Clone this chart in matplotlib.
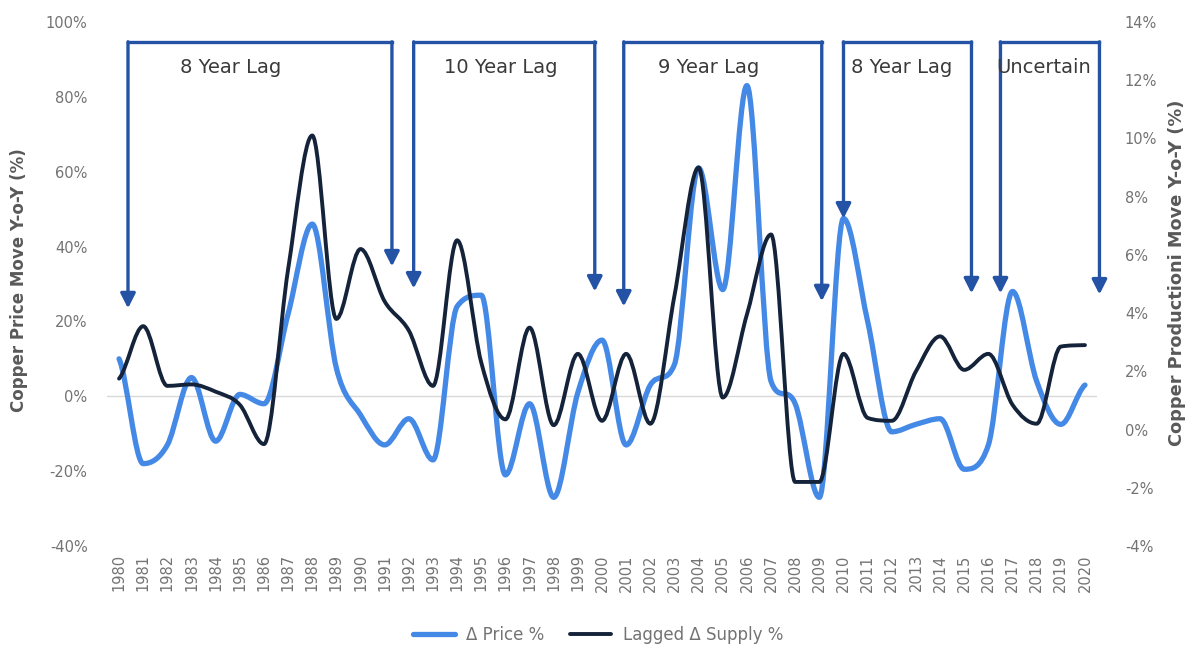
import matplotlib
matplotlib.use("Agg")
import matplotlib.pyplot as plt
import numpy as np
from matplotlib.path import Path
from matplotlib.patches import PathPatch
from matplotlib.lines import Line2D
from matplotlib.ticker import FuncFormatter, MultipleLocator

plt.rcParams['font.family'] = ['DejaVu Sans']

years = list(range(1980, 2021))
price_pct = [10, -18, -13, 5, -12, 0.5, -2, 22, 46, 7.5, -5, -13, -6, -17, 24, 27,
             -21, -2, -27, 1, 15, -13, 3, 8.5, 61, 28.5, 83, 4, -2, -27, 47.5, 20,
             -9.5, -7.5, -6, -19.5, -13, 28, 4, -7.5, 3]
supply_pct = [1.75, 3.55, 1.5, 1.55, 1.3, 0.85, -0.5, 5.5, 10.1, 3.8, 6.2, 4.4, 3.4,
              1.5, 6.5, 2.3, 0.35, 3.5, 0.15, 2.6, 0.3, 2.6, 0.2, 4.6, 9.0, 1.1, 3.95,
              6.7, -1.8, -1.8, 2.6, 0.4, 0.3, 2.0, 3.2, 2.05, 2.6, 0.85, 0.2, 2.85, 2.9]

# lag brackets: label, start year, end year, left tip (%), right tip (%)
bracket_labels = ["8 Year Lag", "10 Year Lag", "9 Year Lag", "8 Year Lag", "Uncertain"]
bracket_start = [1980.37, 1992.2, 2000.9, 2010.0, 2016.5]
bracket_end = [1991.3, 1999.7, 2009.1, 2015.3, 2020.6]
bracket_tip_start = [23.5, 28.8, 24.0, 47.5, 27.5]
bracket_tip_end = [34.7, 28.0, 25.4, 27.5, 27.2]
bracket_label_x = [1984.6, 1995.8, 2004.4, 2012.4, 2018.3]

left_label = "Copper Price Move Y-o-Y (%)"
right_label = "Copper Productioni Move Y-o-Y (%)"
legend_labels = ["\u0394 Price %", "Lagged \u0394 Supply %"]

PRICE_C = "#4589E6"
SUPPLY_C = "#14233A"
ARROW_C = "#2453A6"
GRAY = "#595959"
TICK_GRAY = "#737373"


def smooth_path(x, y):
    """Cubic Bezier path through the points: Catmull-Rom tangents, kept monotone."""
    x = np.asarray(x, float)
    y = np.asarray(y, float)
    n = len(x)
    h = np.diff(x)
    d = np.diff(y) / h
    m = np.zeros(n)
    m[0] = d[0] / 2.0
    m[-1] = d[-1] / 2.0
    for k in range(1, n - 1):
        if d[k - 1] * d[k] > 0:
            cr = (y[k + 1] - y[k - 1]) / (x[k + 1] - x[k - 1])
            lim = 3.0 * min(abs(d[k - 1]), abs(d[k]))
            m[k] = np.sign(cr) * min(abs(cr), lim)
        else:
            m[k] = 0.0
    verts = [(x[0], y[0])]
    codes = [Path.MOVETO]
    for i in range(n - 1):
        hi = h[i] / 3.0
        verts += [(x[i] + hi, y[i] + hi * m[i]),
                  (x[i + 1] - hi, y[i + 1] - hi * m[i + 1]),
                  (x[i + 1], y[i + 1])]
        codes += [Path.CURVE4] * 3
    return Path(verts, codes)


fig = plt.figure(figsize=(11.94, 6.56), dpi=100)
ax = fig.add_axes([0.0896, 0.1677, 0.8292, 0.7988])
ax2 = ax.twinx()

ax.set_xlim(1979.5, 2020.5)
ax.set_ylim(-40, 100)
ax2.set_ylim(-4, 14)

ax.axhline(0, color="#D9D9D9", lw=1.0, zorder=1)

ax.add_patch(PathPatch(smooth_path(years, price_pct), fill=False, edgecolor=PRICE_C,
                       lw=3.8, capstyle='round', joinstyle='round', zorder=3))
ax2.add_patch(PathPatch(smooth_path(years, supply_pct), fill=False, edgecolor=SUPPLY_C,
                        lw=2.8, capstyle='round', joinstyle='round', zorder=3))

for s in list(ax.spines.values()) + list(ax2.spines.values()):
    s.set_visible(False)

ax.set_xticks(years)
ax.set_xticklabels([str(y) for y in years], rotation=90, fontsize=10.5)
ax.yaxis.set_major_locator(MultipleLocator(20))
ax.yaxis.set_major_formatter(FuncFormatter(lambda v, p: f"{v:.0f}%"))
ax2.yaxis.set_major_locator(MultipleLocator(2))
ax2.yaxis.set_major_formatter(FuncFormatter(lambda v, p: f"{v:.0f}%"))
ax.tick_params(axis='both', length=0, labelcolor=TICK_GRAY)
ax.tick_params(axis='x', labelsize=10.5, pad=6)
ax.tick_params(axis='y', labelsize=10.5, pad=14)
ax2.tick_params(axis='y', length=0, labelsize=10.5, labelcolor=TICK_GRAY, pad=20)

ax.set_ylabel(left_label, fontsize=12, fontweight='bold', color=GRAY)
ax2.set_ylabel(right_label, fontsize=12.8, fontweight='bold', color=GRAY, rotation=90)
ax.yaxis.set_label_coords(-0.089, 0.508)
ax2.yaxis.set_label_coords(1.081, 0.521)
for lbl in (ax.yaxis.label, ax2.yaxis.label):
    lbl.set_horizontalalignment('center')
    lbl.set_verticalalignment('center')

top = 94.7
for lab, xs, xe, ts, te, lx in zip(bracket_labels, bracket_start, bracket_end,
                                   bracket_tip_start, bracket_tip_end, bracket_label_x):
    ax2.plot([xs, xe], [top, top], color=ARROW_C, lw=2.4, transform=ax.transData,
             solid_capstyle='projecting', clip_on=False, zorder=6)
    for xx, tip in ((xs, ts), (xe, te)):
        ax2.annotate("", xy=(xx, tip), xytext=(xx, top), xycoords=ax.transData,
                     textcoords=ax.transData, annotation_clip=False, zorder=6,
                     arrowprops=dict(arrowstyle="-|>,head_length=0.55,head_width=0.28",
                                     color=ARROW_C, lw=2.4, shrinkA=0, shrinkB=0,
                                     mutation_scale=16))
    ax2.text(lx, 87.9, lab, transform=ax.transData, ha='center', va='center',
             fontsize=14, color="#3A3A3A", zorder=7)

handles = [Line2D([], [], color=PRICE_C, lw=3.8, solid_capstyle='round'),
           Line2D([], [], color=SUPPLY_C, lw=2.8, solid_capstyle='round')]
fig.legend(handles, legend_labels, loc='center', bbox_to_anchor=(0.501, 0.032), ncol=2,
           frameon=False, fontsize=12, labelcolor=TICK_GRAY, handlelength=2.5,
           handletextpad=0.7, columnspacing=1.5)

fig.savefig("out.png", dpi=100)
